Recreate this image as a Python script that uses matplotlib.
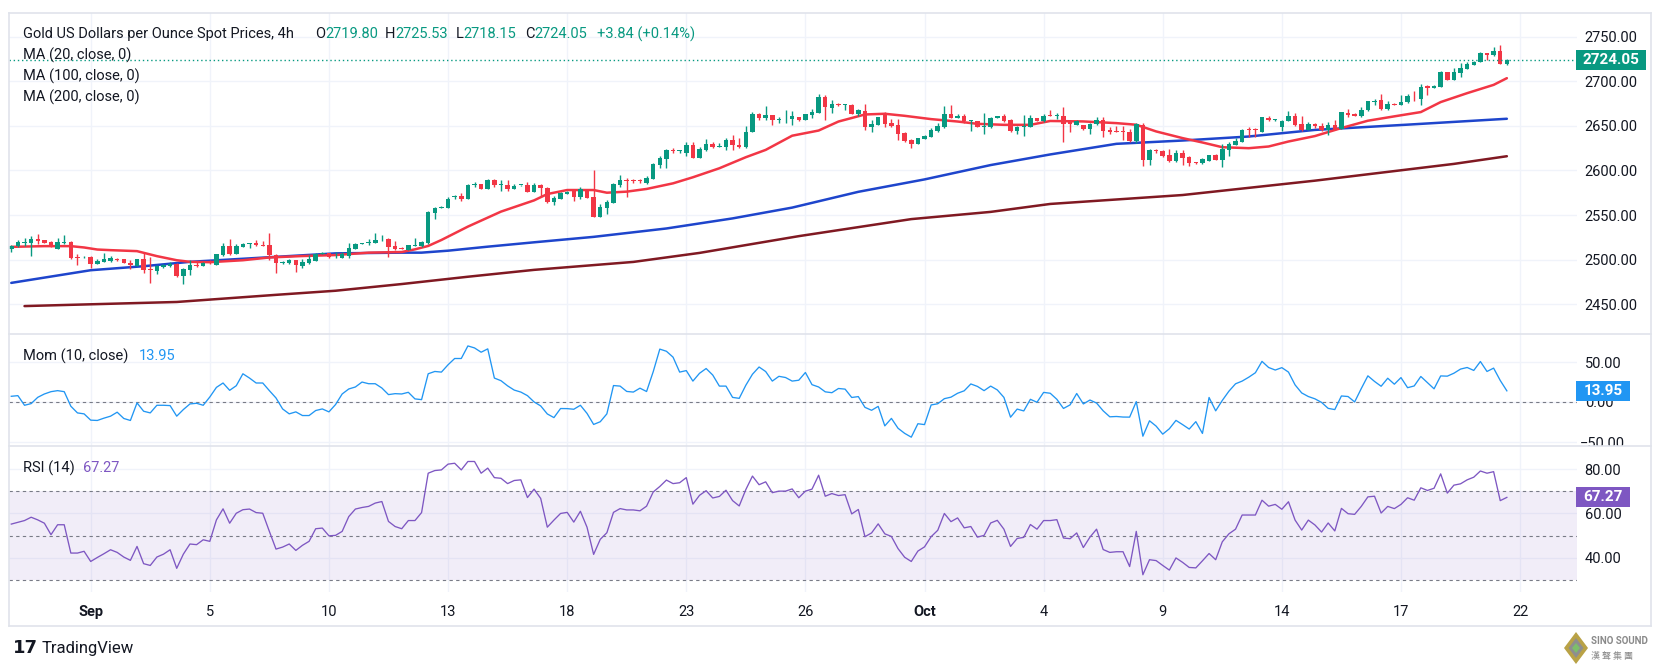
import numpy as np
import matplotlib
matplotlib.use("Agg")
import matplotlib.pyplot as plt
from matplotlib.patches import Rectangle, Polygon
from matplotlib.lines import Line2D
from matplotlib.transforms import blended_transform_factory

# ---------------- data (4h bars, Aug 29 -> Oct 21) ----------------
opens = [2512.0, 2515.2, 2519.0, 2518.5, 2523.0, 2522.0, 2520.0, 2512.5, 2519.0, 2519.7,
         2503.0, 2502.5, 2502.5, 2495.4, 2497.6, 2498.7, 2501.3, 2500.6, 2496.8, 2492.7,
         2500.6, 2489.4, 2487.5, 2492.0, 2492.7, 2495.7, 2481.5, 2488.2, 2494.5, 2493.0,
         2497.0, 2494.2, 2505.4, 2515.2, 2506.2, 2514.4, 2517.8, 2519.0, 2516.0, 2516.3,
         2505.2, 2496.0, 2496.6, 2499.6, 2493.4, 2496.6, 2498.9, 2506.7, 2507.1, 2502.6,
         2502.2, 2504.1, 2512.0, 2517.6, 2518.4, 2519.1, 2521.7, 2522.9, 2515.7, 2513.5,
         2510.9, 2515.7, 2515.3, 2518.4, 2552.8, 2558.4, 2558.4, 2570.0, 2571.5, 2568.5,
         2583.9, 2584.7, 2579.8, 2589.2, 2583.5, 2584.3, 2579.8, 2583.5, 2584.3, 2576.0,
         2583.8, 2580.8, 2565.0, 2568.4, 2574.0, 2577.0, 2570.6, 2578.1, 2570.6, 2548.1,
         2558.2, 2563.9, 2583.8, 2589.4, 2589.0, 2588.6, 2585.6, 2590.5, 2606.2, 2613.0,
         2623.1, 2621.6, 2620.1, 2628.8, 2614.5, 2623.1, 2629.9, 2626.5, 2626.1, 2634.4,
         2628.8, 2625.8, 2643.4, 2663.6, 2658.4, 2662.5, 2656.9, 2657.2, 2657.6, 2659.8,
         2656.1, 2661.7, 2664.3, 2682.4, 2670.3, 2674.1, 2673.3, 2673.3, 2663.6, 2666.6,
         2649.3, 2651.2, 2662.8, 2653.0, 2651.2, 2642.5, 2634.3, 2629.8, 2635.0, 2638.0,
         2644.8, 2649.3, 2663.6, 2658.3, 2661.3, 2655.0, 2655.0, 2649.3, 2649.3, 2658.3,
         2660.6, 2656.8, 2644.4, 2649.3, 2649.3, 2658.3, 2655.7, 2662.5, 2661.3, 2661.3,
         2654.3, 2651.3, 2650.5, 2646.8, 2652.0, 2656.9, 2645.6, 2643.8, 2643.8, 2643.4,
         2633.3, 2651.3, 2611.9, 2623.1, 2622.0, 2617.5, 2610.8, 2619.4, 2614.9, 2609.6,
         2608.5, 2611.1, 2617.5, 2611.9, 2623.1, 2628.8, 2632.5, 2646.4, 2646.4, 2643.4,
         2658.8, 2656.1, 2648.3, 2655.0, 2660.6, 2652.4, 2645.6, 2652.5, 2650.3, 2645.0,
         2651.4, 2646.9, 2664.4, 2663.3, 2660.7, 2667.3, 2676.3, 2679.3, 2669.2, 2674.8,
         2673.7, 2676.3, 2682.3, 2680.4, 2694.2, 2692.3, 2693.1, 2710.2, 2701.6, 2709.8,
         2713.9, 2718.7, 2722.1, 2731.4, 2729.5, 2734.0, 2719.80]
highs = [2516.3, 2522.0, 2524.0, 2526.4, 2528.7, 2522.5, 2521.0, 2524.0, 2527.5, 2520.4,
         2506.0, 2504.0, 2504.0, 2501.3, 2507.0, 2504.3, 2501.5, 2501.0, 2499.4, 2501.3,
         2507.0, 2503.2, 2494.5, 2495.7, 2497.6, 2496.4, 2491.2, 2500.2, 2497.2, 2497.6,
         2499.4, 2506.9, 2518.9, 2523.7, 2517.4, 2519.0, 2519.0, 2522.0, 2521.2, 2530.0,
         2506.0, 2498.5, 2500.4, 2499.6, 2500.4, 2505.2, 2507.9, 2508.6, 2507.5, 2508.6,
         2509.0, 2518.4, 2518.4, 2518.4, 2523.6, 2529.6, 2527.7, 2524.0, 2521.4, 2514.6,
         2516.5, 2524.0, 2520.6, 2555.0, 2559.6, 2560.3, 2570.8, 2572.7, 2575.3, 2585.4,
         2587.3, 2585.0, 2591.0, 2591.0, 2589.6, 2589.6, 2585.4, 2584.3, 2586.8, 2586.0,
         2584.5, 2581.9, 2571.4, 2576.2, 2577.4, 2577.4, 2581.9, 2579.3, 2600.6, 2562.4,
         2566.9, 2585.6, 2595.0, 2591.4, 2590.9, 2590.6, 2593.9, 2608.1, 2616.4, 2623.9,
         2625.0, 2623.1, 2631.4, 2632.5, 2626.1, 2635.1, 2631.4, 2630.6, 2636.3, 2640.0,
         2636.3, 2649.4, 2665.1, 2664.4, 2671.9, 2662.5, 2659.5, 2668.1, 2666.3, 2660.2,
         2663.6, 2668.8, 2686.1, 2685.0, 2678.6, 2675.6, 2674.8, 2674.5, 2669.2, 2674.8,
         2656.8, 2659.8, 2665.8, 2657.6, 2657.6, 2643.7, 2635.0, 2636.6, 2639.9, 2647.4,
         2653.0, 2672.6, 2673.7, 2663.6, 2663.2, 2656.8, 2655.7, 2664.3, 2659.5, 2661.3,
         2663.6, 2657.6, 2650.0, 2662.5, 2662.5, 2658.7, 2663.6, 2667.3, 2664.4, 2670.8,
         2656.1, 2656.9, 2651.3, 2653.1, 2659.9, 2659.9, 2648.6, 2650.1, 2649.4, 2646.4,
         2653.1, 2653.1, 2623.9, 2624.3, 2623.1, 2623.9, 2623.1, 2623.1, 2616.4, 2610.0,
         2613.6, 2617.5, 2618.6, 2629.9, 2632.5, 2636.3, 2646.4, 2648.3, 2647.5, 2659.5,
         2661.4, 2657.6, 2656.1, 2667.0, 2664.4, 2661.4, 2653.9, 2653.2, 2653.2, 2654.3,
         2657.0, 2665.5, 2669.2, 2664.0, 2670.7, 2678.2, 2680.4, 2685.6, 2677.4, 2675.6,
         2684.9, 2685.6, 2689.3, 2696.8, 2695.3, 2695.3, 2712.0, 2710.9, 2714.6, 2720.2,
         2722.1, 2722.8, 2733.3, 2732.1, 2738.8, 2740.7, 2725.53]
lows = [2508.8, 2514.4, 2515.0, 2504.0, 2518.0, 2518.5, 2513.7, 2512.0, 2517.4, 2500.6,
        2494.0, 2501.5, 2491.0, 2494.7, 2497.6, 2497.6, 2498.3, 2496.0, 2489.7, 2492.7,
        2485.2, 2474.0, 2483.7, 2491.2, 2492.0, 2481.0, 2472.5, 2482.6, 2491.6, 2493.0,
        2495.0, 2494.2, 2504.7, 2505.0, 2506.2, 2514.4, 2513.0, 2515.6, 2515.2, 2500.2,
        2485.4, 2495.0, 2495.2, 2486.5, 2491.0, 2495.2, 2498.9, 2506.0, 2502.0, 2501.5,
        2501.5, 2501.5, 2511.6, 2517.2, 2516.1, 2519.1, 2521.4, 2502.6, 2510.9, 2512.0,
        2510.9, 2515.3, 2514.6, 2518.0, 2546.1, 2557.7, 2558.4, 2568.2, 2565.5, 2568.5,
        2581.3, 2579.0, 2579.8, 2581.6, 2576.8, 2576.8, 2579.8, 2583.1, 2576.4, 2575.5,
        2570.6, 2563.1, 2561.3, 2568.4, 2573.3, 2565.8, 2568.4, 2568.8, 2547.4, 2548.1,
        2551.1, 2563.9, 2581.9, 2570.6, 2585.6, 2586.4, 2584.9, 2590.5, 2602.5, 2602.5,
        2619.4, 2619.4, 2616.4, 2613.8, 2614.5, 2621.3, 2625.0, 2626.1, 2623.1, 2623.1,
        2625.0, 2625.0, 2642.6, 2656.1, 2656.1, 2651.3, 2653.1, 2653.1, 2651.3, 2655.7,
        2656.1, 2658.7, 2664.3, 2656.1, 2664.3, 2671.8, 2667.3, 2662.8, 2660.6, 2645.5,
        2643.7, 2651.2, 2648.6, 2648.6, 2634.3, 2632.4, 2625.3, 2629.8, 2635.0, 2637.3,
        2643.7, 2648.2, 2658.3, 2658.3, 2653.8, 2644.8, 2648.6, 2641.0, 2647.4, 2658.3,
        2654.9, 2643.7, 2641.0, 2638.8, 2649.3, 2655.4, 2654.9, 2660.6, 2657.6, 2632.5,
        2642.6, 2651.3, 2645.6, 2640.8, 2651.3, 2638.1, 2641.1, 2642.6, 2634.4, 2631.4,
        2630.6, 2605.5, 2606.3, 2620.1, 2615.6, 2610.0, 2610.0, 2606.3, 2605.1, 2607.4,
        2607.4, 2611.1, 2611.9, 2604.4, 2616.4, 2628.8, 2632.5, 2637.0, 2637.4, 2643.4,
        2655.0, 2655.0, 2643.8, 2655.0, 2650.1, 2643.8, 2644.9, 2647.6, 2644.7, 2639.5,
        2645.8, 2646.9, 2659.5, 2660.7, 2659.5, 2666.3, 2673.7, 2668.1, 2667.7, 2673.3,
        2673.7, 2675.6, 2677.4, 2673.7, 2684.1, 2692.3, 2693.1, 2701.6, 2701.6, 2705.3,
        2713.9, 2718.7, 2722.1, 2723.9, 2728.8, 2719.5, 2718.15]
closes = [2515.0, 2520.0, 2519.6, 2523.0, 2521.0, 2519.0, 2514.0, 2519.7, 2519.6, 2501.7,
          2502.0, 2503.5, 2495.0, 2498.3, 2500.6, 2501.7, 2499.4, 2496.4, 2493.8, 2500.6,
          2488.2, 2488.6, 2492.7, 2493.8, 2495.7, 2481.5, 2489.4, 2493.8, 2493.0, 2496.4,
          2496.0, 2506.2, 2515.2, 2506.2, 2515.2, 2517.4, 2518.2, 2516.0, 2515.6, 2505.8,
          2495.9, 2497.8, 2499.6, 2494.0, 2497.8, 2500.4, 2506.4, 2507.5, 2502.6, 2503.4,
          2506.0, 2513.5, 2517.6, 2518.4, 2519.9, 2522.1, 2522.1, 2514.6, 2512.0, 2512.4,
          2516.1, 2516.5, 2520.2, 2553.9, 2558.4, 2559.6, 2568.2, 2571.5, 2568.5, 2584.3,
          2585.0, 2579.4, 2589.2, 2583.4, 2584.3, 2579.8, 2583.1, 2583.9, 2576.4, 2584.3,
          2580.0, 2564.3, 2569.5, 2575.1, 2575.9, 2570.6, 2578.9, 2569.5, 2548.1, 2559.4,
          2565.0, 2584.9, 2589.4, 2588.3, 2588.3, 2587.9, 2592.0, 2607.4, 2614.5, 2623.1,
          2621.3, 2622.4, 2628.8, 2614.5, 2624.3, 2629.9, 2625.8, 2627.3, 2634.4, 2628.8,
          2625.8, 2643.4, 2663.6, 2658.4, 2662.5, 2656.1, 2658.0, 2658.0, 2660.6, 2656.1,
          2662.8, 2665.1, 2682.4, 2671.1, 2674.1, 2673.0, 2674.1, 2663.6, 2667.3, 2649.3,
          2652.3, 2659.5, 2652.3, 2650.4, 2641.0, 2633.5, 2629.8, 2636.2, 2638.8, 2645.5,
          2650.0, 2663.6, 2658.3, 2661.3, 2655.0, 2656.1, 2649.3, 2650.4, 2658.7, 2660.6,
          2655.7, 2644.4, 2649.3, 2650.0, 2658.3, 2655.7, 2661.3, 2661.3, 2662.0, 2652.4,
          2652.0, 2655.0, 2646.8, 2652.4, 2656.9, 2644.5, 2642.6, 2643.0, 2643.0, 2633.3,
          2652.4, 2611.9, 2623.1, 2622.0, 2616.4, 2610.8, 2619.4, 2614.5, 2608.9, 2608.5,
          2612.8, 2617.5, 2611.9, 2623.9, 2629.9, 2633.6, 2645.6, 2645.6, 2645.6, 2659.5,
          2656.1, 2657.6, 2655.0, 2661.4, 2651.3, 2644.9, 2652.4, 2649.5, 2645.0, 2651.4,
          2646.5, 2665.1, 2661.8, 2661.4, 2668.1, 2677.7, 2678.2, 2669.2, 2674.8, 2673.7,
          2677.1, 2683.0, 2681.9, 2693.4, 2692.3, 2694.2, 2710.9, 2701.6, 2710.9, 2715.4,
          2719.5, 2722.1, 2732.1, 2729.5, 2734.0, 2719.8, 2724.05]
change_abs = 3.84
change_pct = 0.14

ma20_bars = [0, 5, 9, 11, 13, 15, 19, 22, 25, 27, 30, 35, 39, 44, 49, 54, 59, 61, 63, 65,
             69, 74, 79, 81, 84, 88, 90, 93, 96, 100, 103, 107, 111, 114, 118, 122, 125, 129, 132, 135,
             139, 143, 146, 150, 154, 157, 162, 167, 170, 173, 177, 180, 183, 187, 190, 193, 197, 201, 205, 209,
             213, 216, 220, 224, 226]
ma20_vals = [2514.4, 2515.2, 2515.2, 2513.7, 2511.4, 2510.7, 2509.6, 2504.0, 2499.4, 2497.6,
             2497.2, 2499.4, 2502.5, 2504.1, 2505.2, 2507.9, 2508.6, 2511.6, 2515.4, 2522.1,
             2537.1, 2553.9, 2566.5, 2573.6, 2578.1, 2578.1, 2575.1, 2576.3, 2579.3, 2585.6,
             2592.4, 2602.5, 2614.9, 2623.1, 2639.0, 2644.8, 2654.9, 2662.8, 2663.6, 2661.3,
             2657.6, 2654.9, 2652.3, 2651.2, 2651.2, 2655.5, 2655.0, 2653.1, 2651.3, 2643.8,
             2636.3, 2631.4, 2626.1, 2625.0, 2626.9, 2632.5, 2638.6, 2647.6, 2655.8, 2660.7,
             2665.5, 2676.7, 2686.7, 2696.0, 2703.5]
ma100_bars = [0, 12, 20, 27, 40, 49, 59, 62, 66, 72, 79, 88, 99, 109, 118, 128, 138, 148, 157, 167,
              177, 187, 197, 211, 226]
ma100_vals = [2474.0, 2488.2, 2492.7, 2497.6, 2503.2, 2507.1, 2507.9, 2507.9, 2510.1, 2514.6,
              2519.5, 2525.6, 2535.0, 2546.3, 2558.4, 2576.1, 2590.0, 2606.1, 2618.0, 2629.9,
              2633.6, 2638.1, 2645.5, 2651.4, 2658.0]
ma200_bars = [2, 12, 25, 40, 49, 59, 69, 79, 94, 104, 119, 136, 148, 157, 177, 197, 218, 226]
ma200_vals = [2448.0, 2450.0, 2452.6, 2460.6, 2465.2, 2472.7, 2480.9, 2488.6, 2497.5, 2507.6,
              2526.4, 2545.5, 2553.6, 2562.5, 2572.5, 2588.6, 2607.4, 2616.0]

# Momentum (10) per bar
mom_vals = [7.1, 7.9, -4.2, -2.1, 5.8, 10.0, 12.9, 14.2, 12.9, -5.4,
            -13.8, -15.0, -22.9, -23.3, -20.4, -17.9, -12.9, -20.8, -23.3, -1.2,
            -11.7, -13.8, -4.2, -4.2, -4.6, -17.9, -9.6, -2.5, -1.7, -4.2,
            6.2, 18.3, 23.8, 14.6, 20.4, 35.4, 30.0, 23.8, 23.8, 14.2,
            5.0, -8.8, -15.0, -12.5, -17.1, -17.1, -10.8, -8.8, -12.5, -3.3,
            10.0, 16.3, 18.8, 25.0, 22.9, 22.9, 17.5, 9.2, 10.4, 10.0,
            12.1, 3.8, 2.9, 35.4, 38.3, 37.5, 46.7, 54.6, 54.6, 70.4,
            67.9, 62.5, 66.7, 30.0, 26.7, 20.2, 14.9, 12.4, 7.9, 0.0,
            -5.0, -15.1, -19.7, -8.3, -8.4, -9.2, -4.2, -14.4, -28.3, -24.9,
            -15.0, 20.6, 19.9, 13.2, 12.4, 17.3, 13.1, 37.9, 66.4, 63.7,
            56.3, 37.5, 39.4, 26.2, 36.0, 42.0, 33.8, 19.9, 19.9, 5.7,
            4.5, 21.0, 34.8, 43.9, 38.2, 26.2, 32.2, 30.7, 26.2, 27.3,
            37.0, 21.7, 18.8, 12.7, 11.6, 16.9, 16.1, 5.6, 6.7, -6.8,
            -10.5, -5.6, -30.1, -20.7, -33.1, -39.5, -44.3, -27.4, -28.5, -3.8,
            -2.3, 4.1, 6.0, 10.9, 14.0, 22.6, 19.5, 14.2, 19.9, 15.1,
            5.7, -19.2, -9.0, -11.3, 3.3, -0.4, 12.0, 10.9, 3.3, -8.2,
            -3.7, 10.6, -2.5, 2.4, -1.4, -11.2, -18.7, -18.3, -19.0, -19.1,
            0.4, -43.1, -23.7, -30.4, -40.5, -33.7, -23.2, -28.5, -34.1, -24.8,
            -39.6, 5.6, -11.2, 1.9, 13.5, 22.8, 26.2, 31.1, 36.7, 51.0,
            43.3, 40.1, 43.1, 37.5, 21.4, 11.3, 6.8, 3.9, -0.6, -8.1,
            -9.6, 7.5, 6.8, 0.0, 16.8, 32.8, 25.8, 19.7, 29.8, 22.3,
            30.6, 17.9, 20.1, 32.0, 24.2, 16.5, 32.7, 32.4, 36.1, 41.3,
            43.3, 39.6, 50.8, 38.3, 42.5, 27.0, 13.95]

# RSI (14) per bar
rsi_vals = [55.2, 56.0, 56.8, 58.3, 57.1, 55.6, 50.4, 54.9, 54.9, 42.1,
            42.1, 42.9, 38.3, 40.1, 41.8, 43.6, 42.4, 40.3, 38.8, 45.1,
            37.3, 36.5, 40.3, 41.6, 43.6, 35.2, 41.6, 46.2, 45.9, 48.1,
            47.4, 57.1, 62.1, 55.6, 60.1, 61.7, 62.0, 60.4, 60.1, 51.9,
            43.9, 44.8, 46.2, 43.3, 45.6, 47.4, 53.1, 53.4, 49.9, 50.1,
            51.9, 58.6, 62.0, 62.7, 63.2, 64.7, 65.4, 56.4, 54.1, 53.1,
            56.8, 56.8, 60.4, 78.2, 79.4, 79.7, 82.3, 82.7, 79.7, 83.5,
            83.5, 78.2, 80.5, 76.2, 75.9, 73.5, 74.9, 75.2, 67.2, 71.0,
            66.8, 53.8, 57.0, 60.0, 60.5, 56.1, 61.0, 53.8, 41.5, 48.3,
            51.3, 60.5, 62.2, 61.6, 61.6, 61.2, 63.3, 69.7, 72.2, 75.1,
            73.5, 73.9, 76.2, 64.2, 68.2, 70.3, 67.0, 67.7, 70.5, 65.8,
            63.4, 70.8, 76.9, 73.0, 74.3, 69.4, 70.1, 70.1, 71.1, 67.1,
            70.1, 71.0, 77.3, 67.8, 69.0, 68.1, 68.5, 59.8, 61.8, 49.5,
            51.2, 55.3, 50.8, 49.6, 44.1, 40.2, 38.3, 43.0, 44.9, 49.5,
            52.4, 60.0, 56.3, 58.0, 53.5, 54.1, 49.3, 50.1, 55.7, 56.9,
            52.9, 45.1, 48.7, 49.2, 55.0, 52.9, 56.8, 56.8, 57.2, 48.9,
            48.6, 51.2, 44.6, 49.3, 52.9, 43.7, 42.4, 42.7, 42.7, 36.0,
            51.9, 32.3, 39.1, 38.7, 36.5, 34.4, 39.9, 37.9, 35.6, 35.4,
            38.6, 41.9, 39.1, 47.2, 50.8, 52.9, 59.3, 59.3, 59.3, 66.0,
            63.3, 64.1, 61.9, 65.3, 57.0, 52.5, 57.0, 54.8, 51.6, 55.7,
            52.1, 62.3, 59.9, 59.6, 63.2, 67.5, 67.8, 60.2, 63.2, 62.2,
            64.1, 67.1, 66.0, 71.6, 70.4, 71.4, 77.9, 69.2, 72.8, 73.4,
            75.2, 76.4, 79.2, 78.2, 78.9, 65.8, 67.27]

tick_bars = [12, 30, 48, 66, 84, 102, 120, 138, 156, 174, 192, 210, 228]
tick_labels = ['Sep', '5', '10', '13', '18', '23', '26', 'Oct', '4', '9', '14', '17', '22']
price_ticks = [2450, 2500, 2550, 2600, 2650, 2700, 2750]
mom_ticks = [-50, 0, 50]
rsi_ticks = [40, 60, 80]

# ---------------- style ----------------
plt.rcParams['font.family'] = ['Roboto', 'DejaVu Sans']
TXT = '#131722'
GRID = '#F0F3FA'
BORDER = '#E0E3EB'
UP, DN = '#089981', '#F23645'
FS = 10.5

W, H = 1664, 671
fig = plt.figure(figsize=(W / 100, H / 100), dpi=100)
fig.patch.set_facecolor('white')
L, R = 9.3, 1577.0


def fx(px):
    return px / W


def fy(py):
    return 1 - py / H


def add_ax(top, bottom):
    ax = fig.add_axes([fx(L), fy(bottom), fx(R - L), (bottom - top) / H])
    ax.set_facecolor('none')
    for s in ax.spines.values():
        s.set_visible(False)
    ax.set_xlim(-0.30, 236.6)
    ax.set_xticks([])
    ax.tick_params(axis='y', which='both', left=False, right=False, labelleft=False,
                   labelright=True, labelsize=FS, labelcolor=TXT, pad=2)
    for b in tick_bars:
        ax.axvline(b, color=GRID, lw=1.0, zorder=0)
    return ax


ax_p = add_ax(12.7, 334)
ax_m = add_ax(334, 446)
ax_r = add_ax(446, 592)

# ---- price pane ----
ax_p.set_ylim(2416.7, 2776.9)
ax_p.set_yticks(price_ticks)
ax_p.set_yticklabels([f"{v:.2f}" for v in price_ticks])
for p in price_ticks:
    ax_p.axhline(p, color=GRID, lw=1.0, zorder=0)

o = np.array(opens); h = np.array(highs); lo = np.array(lows); c = np.array(closes)
x = np.arange(len(c))
cols = np.where(c >= o, UP, DN)
ax_p.vlines(x, lo, h, colors=cols, lw=1.0, zorder=3)
ax_p.bar(x, np.maximum(np.abs(c - o), 0.9), bottom=np.minimum(o, c), width=0.68,
         color=cols, linewidth=0, zorder=3)

ax_p.plot(ma200_bars, ma200_vals, color='#801922', lw=1.8, zorder=2, solid_capstyle='round')
ax_p.plot(ma100_bars, ma100_vals, color='#1E45CC', lw=1.8, zorder=2, solid_capstyle='round')
ax_p.plot(ma20_bars, ma20_vals, color='#F23645', lw=1.8, zorder=2, solid_capstyle='round')
ax_p.axhline(closes[-1], color=UP, lw=1.0, ls=(0, (1, 2)), zorder=4)

# ---- momentum pane ----
ax_m.set_ylim(-55.4, 85.4)
ax_m.set_yticks(mom_ticks[1:])
ax_m.set_yticklabels(["0.00", "50.00"])
for p in mom_ticks:
    ax_m.axhline(p, color=GRID, lw=1.0, zorder=0)
ax_m.axhline(0, color='#787B86', lw=0.8, ls=(0, (3, 3)), zorder=1)
ax_m.plot(np.arange(len(mom_vals)), mom_vals, color='#2196F3', lw=0.95, zorder=3)
# bottom label, partly hidden by the pane separator as in the original
t50 = fig.text(fx(1580), fy(443.5), "\u221250.00", fontsize=FS, color=TXT, ha='left', va='center')
t50.set_clip_path(Rectangle((0, fy(446)), 1, fy(334) - fy(446), transform=fig.transFigure))

# ---- RSI pane ----
ax_r.set_ylim(24.5, 90.5)
ax_r.set_yticks(rsi_ticks)
ax_r.set_yticklabels([f"{v:.2f}" for v in rsi_ticks])
for p in rsi_ticks:
    ax_r.axhline(p, color=GRID, lw=1.0, zorder=0)
ax_r.axhspan(30, 70, color='#7E57C2', alpha=0.1, lw=0, zorder=0.5)
for lvl in (70, 50, 30):
    ax_r.axhline(lvl, color='#787B86', lw=0.8, ls=(0, (3, 3)), zorder=1)
ax_r.plot(np.arange(len(rsi_vals)), rsi_vals, color='#7E57C2', lw=0.95, zorder=3)

# time axis labels
tr = blended_transform_factory(ax_r.transData, fig.transFigure)
for b, lab in zip(tick_bars, tick_labels):
    bold = lab in ('Sep', 'Oct')
    ax_r.text(b, fy(612), lab, transform=tr, ha='center', va='center', fontsize=FS,
              color=TXT, fontweight='bold' if bold else 'normal', clip_on=False)

# ---------------- frame lines ----------------
def hline(y, x0=L, x1=1651):
    fig.add_artist(Line2D([fx(x0), fx(x1)], [fy(y), fy(y)], color=BORDER, lw=1.2, zorder=4))


def vline(xp, y0, y1):
    fig.add_artist(Line2D([fx(xp), fx(xp)], [fy(y0), fy(y1)], color=BORDER, lw=1.2))


hline(12.7); hline(626); hline(334); hline(446)
vline(L, 12.7, 626); vline(1651, 12.7, 626)

# ---------------- value boxes ----------------
def value_box(y_center, x0, x1, text, color):
    hgt = 20
    fig.add_artist(Rectangle((fx(x0), fy(y_center + hgt / 2)), fx(x1 - x0), hgt / H,
                             transform=fig.transFigure, facecolor=color, edgecolor='none', zorder=5))
    fig.text(fx((x0 + x1) / 2), fy(y_center), text, ha='center', va='center', color='white',
             fontsize=FS + 0.5, fontweight='bold', zorder=6)


def y_px(ax, v, top, bottom):
    y0, y1 = ax.get_ylim()
    return bottom - (v - y0) / (y1 - y0) * (bottom - top)


value_box(y_px(ax_p, closes[-1], 12.7, 334), 1576, 1646, f"{closes[-1]:.2f}", UP)
value_box(y_px(ax_m, mom_vals[-1], 334, 446), 1576, 1630, f"{mom_vals[-1]:.2f}", '#2196F3')
value_box(y_px(ax_r, rsi_vals[-1], 446, 592), 1576, 1630, f"{rsi_vals[-1]:.2f}", '#7E57C2')

# ---------------- legends ----------------
fig.canvas.draw()
renderer = fig.canvas.get_renderer()


def seq(xp, yp, parts):
    for s, col in parts:
        t = fig.text(fx(xp), fy(yp), s, color=col, fontsize=FS, ha='left', va='center')
        xp += t.get_window_extent(renderer).width
    return xp


seq(23, 34, [("Gold US Dollars per Ounce Spot Prices, 4h", TXT)])
seq(315, 34, [("O", TXT), (f"{opens[-1]:.2f}", UP)])
seq(385, 34, [("H", TXT), (f"{highs[-1]:.2f}", UP)])
seq(456, 34, [("L", TXT), (f"{lows[-1]:.2f}", UP)])
seq(525, 34, [("C", TXT), (f"{closes[-1]:.2f}", UP)])
seq(597, 34, [(f"+{change_abs:.2f} (+{change_pct:.2f}%)", UP)])
seq(23, 55, [("MA (20, close, 0)", TXT)])
seq(23, 76, [("MA (100, close, 0)", TXT)])
seq(23, 97, [("MA (200, close, 0)", TXT)])
seq(23, 356, [("Mom (10, close)", TXT)])
seq(139, 356, [(f"{mom_vals[-1]:.2f}", '#2196F3')])
seq(23, 468, [("RSI (14)", TXT)])
seq(83, 468, [(f"{rsi_vals[-1]:.2f}", '#7E57C2')])

# ---------------- footer ----------------
fig.text(fx(13), fy(648), "17", fontsize=13, fontweight='heavy', color=TXT, va='center',
         family=['DejaVu Sans'])
fig.text(fx(42), fy(648), "TradingView", fontsize=12, color=TXT, va='center')

# Sino Sound watermark
cx, cy = 1576, 648
fig.add_artist(Polygon([(fx(cx), fy(cy - 16)), (fx(cx + 12), fy(cy)), (fx(cx), fy(cy + 16)),
                        (fx(cx - 12), fy(cy))], closed=True, facecolor='#B9A246', edgecolor='none'))
fig.add_artist(Polygon([(fx(cx), fy(cy - 10)), (fx(cx + 7.5), fy(cy)), (fx(cx), fy(cy + 10)),
                        (fx(cx - 7.5), fy(cy))], closed=True, facecolor='#8E8E8E', edgecolor='none'))
fig.add_artist(Polygon([(fx(cx), fy(cy - 5)), (fx(cx + 4), fy(cy)), (fx(cx), fy(cy + 5)),
                        (fx(cx - 4), fy(cy))], closed=True, facecolor='#7DBF6A', edgecolor='none'))
fig.text(fx(1591), fy(641), "SINO SOUND", fontsize=7, fontweight='bold', color='#8A8A8A',
         va='center', ha='left')
fig.text(fx(1591), fy(656), "漢 聲 集 團", fontsize=6.5, color='#8A8A8A', va='center', ha='left',
         family=['Noto Sans CJK TC', 'DejaVu Sans'])

fig.savefig("out.png", dpi=100, facecolor='white')
